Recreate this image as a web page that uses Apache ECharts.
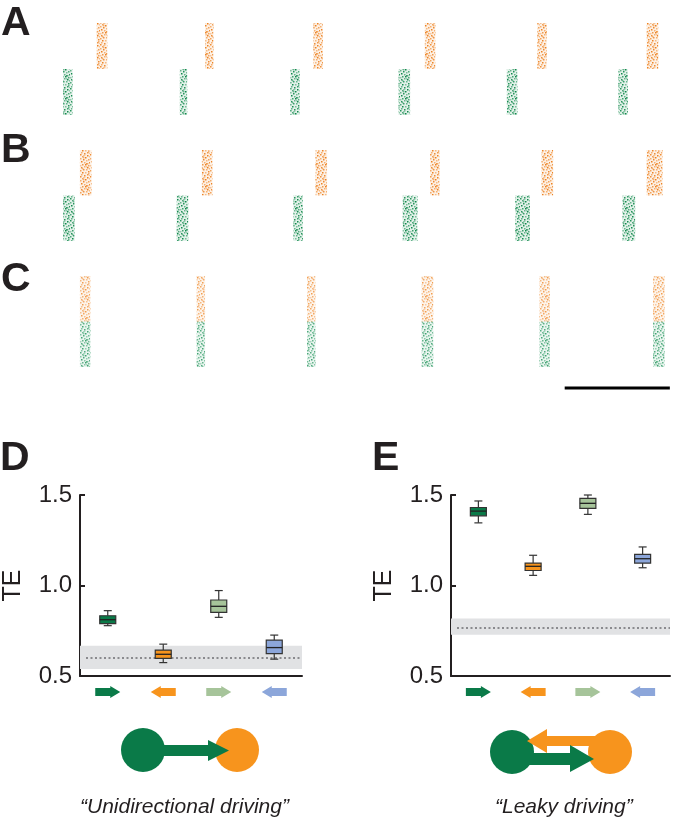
<!doctype html>
<html lang="en">
<head>
<meta charset="utf-8" />
<title>Driving patterns and TE</title>
<script src="https://cdn.jsdelivr.net/npm/echarts@6/dist/echarts.min.js"></script>
<style>
  html, body { margin: 0; padding: 0; background: #fff; }
  #chart { width: 673px; height: 827px; }
</style>
</head>
<body>
<div id="chart"></div>
<script>
// raster bursts, times in ms: [start, end] per cycle
const greenA = [[60, 69], [171, 178], [276, 285], [379, 390], [482, 492], [588, 597]];
const orangeA = [[92, 102], [195, 203], [298, 307], [404, 414], [511, 520], [615, 626]];
const greenB = [[60, 71], [168, 179], [279, 288], [383, 397], [490, 504], [592, 604]];
const orangeB = [[76, 87], [192, 202], [300, 311], [409, 418], [515, 526], [615, 630]];
const burstsC = [[76, 86], [187, 195], [292, 300], [401, 412], [513, 523], [621, 632]];
const scaleBar = [537, 637]; // 100 ms

// TE box stats: [min, q1, median, q3, max]
const directions = ['green→orange', 'orange→green', 'green→orange (ctrl)', 'orange→green (ctrl)'];
const arrowDir = [1, -1, 1, -1];
const uniTE = [
    [0.778, 0.789, 0.811, 0.833, 0.861],
    [0.574, 0.597, 0.620, 0.643, 0.676],
    [0.824, 0.852, 0.885, 0.920, 0.972],
    [0.593, 0.624, 0.657, 0.698, 0.726]
];
const leakyTE = [
    [1.346, 1.385, 1.411, 1.431, 1.467],
    [1.056, 1.083, 1.106, 1.124, 1.167],
    [1.393, 1.426, 1.454, 1.481, 1.500],
    [1.098, 1.124, 1.148, 1.172, 1.213]
];
// surrogate level: [low, mean, high]
const uniNull = [0.539, 0.600, 0.667];
const leakyNull = [0.728, 0.765, 0.817];

const boxColors = ['#0a7a48', '#f7941d', '#a6c49a', '#8ca6da'];
const ink = '#231f20';
const font = '"Liberation Sans", Arial, Helvetica, sans-serif';

// small speckle tile so the bursts read like raster dots
const SPECKLE = [[0, 0, .9], [4, 0, .5], [7, 1, 1], [3, 1, .4], [2, 2, .7], [9, 2, .4], [5, 3, 1], [0, 4, .6],
    [3, 5, .9], [8, 5, .7], [6, 6, .5], [1, 7, 1], [4, 8, .6], [9, 8, .9], [7, 9, .5], [6, 9, .8],
    [2, 10, .8], [5, 10, 1], [0, 11, .4], [8, 11, .7], [1, 13, .9], [4, 12, .6], [7, 13, 1], [9, 14, .5],
    [3, 15, .8], [6, 15, .6], [0, 16, .7], [8, 17, .9], [2, 18, 1], [5, 18, .5], [1, 20, .6], [7, 20, .8],
    [4, 21, .9], [9, 21, .4], [3, 3, .5], [6, 12, .4], [2, 14, .5], [8, 19, .6]];

function speckle(color, alpha) {
    let c = document.createElement('canvas');
    c.width = 10; c.height = 22;
    let g = c.getContext('2d');
    g.fillStyle = color;
    g.globalAlpha = 0.12 * alpha;
    g.fillRect(0, 0, 10, 22);
    SPECKLE.forEach(function (d) {
        g.globalAlpha = d[2] * alpha;
        g.fillRect(d[0], d[1], 1.5, 1.5);
    });
    return { image: c, repeat: 'repeat' };
}

const dense = [speckle('#138a4e', 1), speckle('#ee8424', 1)];
const sparse = [speckle('#1a9055', 0.8), speckle('#ef8a2c', 0.8)];

function burstData(green, orange) {
    return green.map(b => [b[0], b[1], 0, 100, 0]).concat(orange.map(b => [b[0], b[1], 100, 200, 1]));
}

let renderBurst = function (pats) {
    return function (params, api) {
        let p0 = api.coord([api.value(0), api.value(3)]);
        let p1 = api.coord([api.value(1), api.value(2)]);
        return {
            type: 'rect',
            shape: { x: p0[0], y: p0[1], width: p1[0] - p0[0], height: p1[1] - p0[1] },
            style: { fill: pats[api.value(4)] }
        };
    };
};

let renderBox = function (params, api) {
    let i = api.value(0);
    let cx = api.coord([i, 1])[0];
    let ys = [1, 2, 3, 4, 5].map(d => api.coord([i, api.value(d)])[1]);
    let w = 16, cw = 8;
    let ln = { stroke: '#333', lineWidth: 1.2 };
    return {
        type: 'group',
        children: [
            { type: 'line', shape: { x1: cx, y1: ys[0], x2: cx, y2: ys[1] }, style: ln },
            { type: 'line', shape: { x1: cx, y1: ys[3], x2: cx, y2: ys[4] }, style: ln },
            { type: 'line', shape: { x1: cx - cw / 2, y1: ys[0], x2: cx + cw / 2, y2: ys[0] }, style: ln },
            { type: 'line', shape: { x1: cx - cw / 2, y1: ys[4], x2: cx + cw / 2, y2: ys[4] }, style: ln },
            {
                type: 'rect', shape: { x: cx - w / 2, y: ys[3], width: w, height: ys[1] - ys[3] },
                style: { fill: boxColors[i], stroke: '#333', lineWidth: 1.2 }
            },
            { type: 'line', shape: { x1: cx - w / 2, y1: ys[2], x2: cx + w / 2, y2: ys[2] }, style: { stroke: '#222', lineWidth: 1.3 } }
        ]
    };
};

let renderBand = function (params, api) {
    let cs = params.coordSys;
    let lo = api.coord([0, api.value(0)])[1];
    let mid = api.coord([0, api.value(1)])[1];
    let hi = api.coord([0, api.value(2)])[1];
    return {
        type: 'group',
        children: [
            { type: 'rect', shape: { x: cs.x, y: hi, width: cs.width, height: lo - hi }, style: { fill: '#e1e2e4' } },
            {
                type: 'line', shape: { x1: cs.x + 6, y1: mid, x2: cs.x + cs.width, y2: mid },
                style: { stroke: '#6d6e71', lineWidth: 1.5, lineDash: [2, 2.5] }
            }
        ]
    };
};

let valueAxisTE = function (grid) {
    return {
        type: 'value', gridIndex: grid, min: 0.5, max: 1.5, interval: 0.5,
        name: 'TE', nameLocation: 'middle', nameGap: 54,
        nameTextStyle: { fontFamily: font, fontSize: 25, color: ink },
        axisLine: { show: true, lineStyle: { color: ink, width: 2 } },
        axisTick: { show: true, inside: true, length: 5, lineStyle: { color: ink, width: 2 } },
        axisLabel: { fontFamily: font, fontSize: 24, color: ink, margin: 8, formatter: v => v.toFixed(1) },
        splitLine: { show: false }
    };
};

let catAxis = function (grid) {
    return {
        type: 'category', gridIndex: grid, data: directions,
        axisLine: { onZero: false, lineStyle: { color: ink, width: 2 } },
        axisTick: { show: false }, axisLabel: { show: false }
    };
};

let arrowSeries = function (axis) {
    return {
        type: 'scatter', xAxisIndex: axis, yAxisIndex: axis, clip: false, silent: true, z: 5,
        symbol: 'path://M0,2 L15,2 L15,0 L25,6 L15,12 L15,10 L0,10 Z',
        symbolSize: [25, 12],
        data: directions.map((d, i) => ({
            value: [i, 0.412],
            symbolRotate: arrowDir[i] > 0 ? 0 : 180,
            itemStyle: { color: boxColors[i], opacity: 1 }
        }))
    };
};

let rasterX = g => ({ type: 'value', gridIndex: g, min: 0, max: 640, show: false });
let rasterY = g => ({ type: 'value', gridIndex: g, min: 0, max: 200, show: false });

let letter = (t, x, y) => ({
    type: 'text', left: x, top: y,
    style: { text: t, font: 'bold 41px ' + font, fill: ink }
});

let option = {
    animation: false,
    backgroundColor: '#fff',
    grid: [
        { left: 0, right: 0, top: 23, height: 92 },
        { left: 0, right: 0, top: 150, height: 91 },
        { left: 0, right: 0, top: 276, height: 91 },
        { left: 80, width: 222, top: 495, height: 181 },
        { left: 451, width: 219, top: 495, height: 181 }
    ],
    xAxis: [rasterX(0), rasterX(1), rasterX(2), catAxis(3), catAxis(4)],
    yAxis: [rasterY(0), rasterY(1), rasterY(2), valueAxisTE(3), valueAxisTE(4)],
    series: [
        { type: 'custom', xAxisIndex: 0, yAxisIndex: 0, renderItem: renderBurst(dense), data: burstData(greenA, orangeA) },
        { type: 'custom', xAxisIndex: 1, yAxisIndex: 1, renderItem: renderBurst(dense), data: burstData(greenB, orangeB) },
        { type: 'custom', xAxisIndex: 2, yAxisIndex: 2, renderItem: renderBurst(sparse), data: burstData(burstsC, burstsC) },
        {
            type: 'custom', xAxisIndex: 2, yAxisIndex: 2,
            renderItem: function (params, api) {
                let a = api.coord([api.value(0), -46]);
                let b = api.coord([api.value(1), -46]);
                return { type: 'line', shape: { x1: a[0], y1: a[1], x2: b[0], y2: b[1] }, style: { stroke: '#000', lineWidth: 3 } };
            },
            data: [scaleBar]
        },
        { type: 'custom', xAxisIndex: 3, yAxisIndex: 3, z: 1, renderItem: renderBand, data: [uniNull] },
        { type: 'custom', xAxisIndex: 3, yAxisIndex: 3, z: 3, renderItem: renderBox, data: uniTE.map((s, i) => [i].concat(s)) },
        arrowSeries(3),
        { type: 'custom', xAxisIndex: 4, yAxisIndex: 4, z: 1, renderItem: renderBand, data: [leakyNull] },
        { type: 'custom', xAxisIndex: 4, yAxisIndex: 4, z: 3, renderItem: renderBox, data: leakyTE.map((s, i) => [i].concat(s)) },
        arrowSeries(4)
    ],
    graphic: [
        letter('A', 1, 3),
        letter('B', 1, 130),
        letter('C', 1, 259),
        letter('D', 0, 438),
        letter('E', 372, 438),
        // unidirectional diagram
        { type: 'circle', shape: { cx: 143, cy: 750, r: 22 }, style: { fill: '#0a7a48' } },
        { type: 'circle', shape: { cx: 237, cy: 750, r: 22 }, style: { fill: '#f7941d' } },
        {
            type: 'polygon',
            shape: { points: [[150, 745], [208, 745], [208, 740], [229, 750.5], [208, 761], [208, 756], [150, 756]] },
            style: { fill: '#0a7a48' }
        },
        {
            type: 'text', left: 80, top: 797,
            style: { text: '\u201cUnidirectional driving\u201d', font: 'italic 21px ' + font, fill: ink }
        },
        // leaky diagram
        { type: 'circle', shape: { cx: 512, cy: 752, r: 22 }, style: { fill: '#0a7a48' } },
        { type: 'circle', shape: { cx: 610, cy: 752, r: 22 }, style: { fill: '#f7941d' } },
        {
            type: 'polygon',
            shape: { points: [[600, 736], [547, 736], [547, 729], [527, 741], [547, 753], [547, 746], [600, 746]] },
            style: { fill: '#f7941d' }
        },
        {
            type: 'polygon',
            shape: { points: [[515, 753], [570, 753], [570, 745], [594, 759], [570, 772], [570, 765], [515, 765]] },
            style: { fill: '#0a7a48' }
        },
        {
            type: 'text', left: 495, top: 797,
            style: { text: '\u201cLeaky driving\u201d', font: 'italic 21px ' + font, fill: ink }
        }
    ]
};

let myChart = echarts.init(document.getElementById('chart'), null, { renderer: 'canvas' });
myChart.setOption(option);
</script>
</body>
</html>
